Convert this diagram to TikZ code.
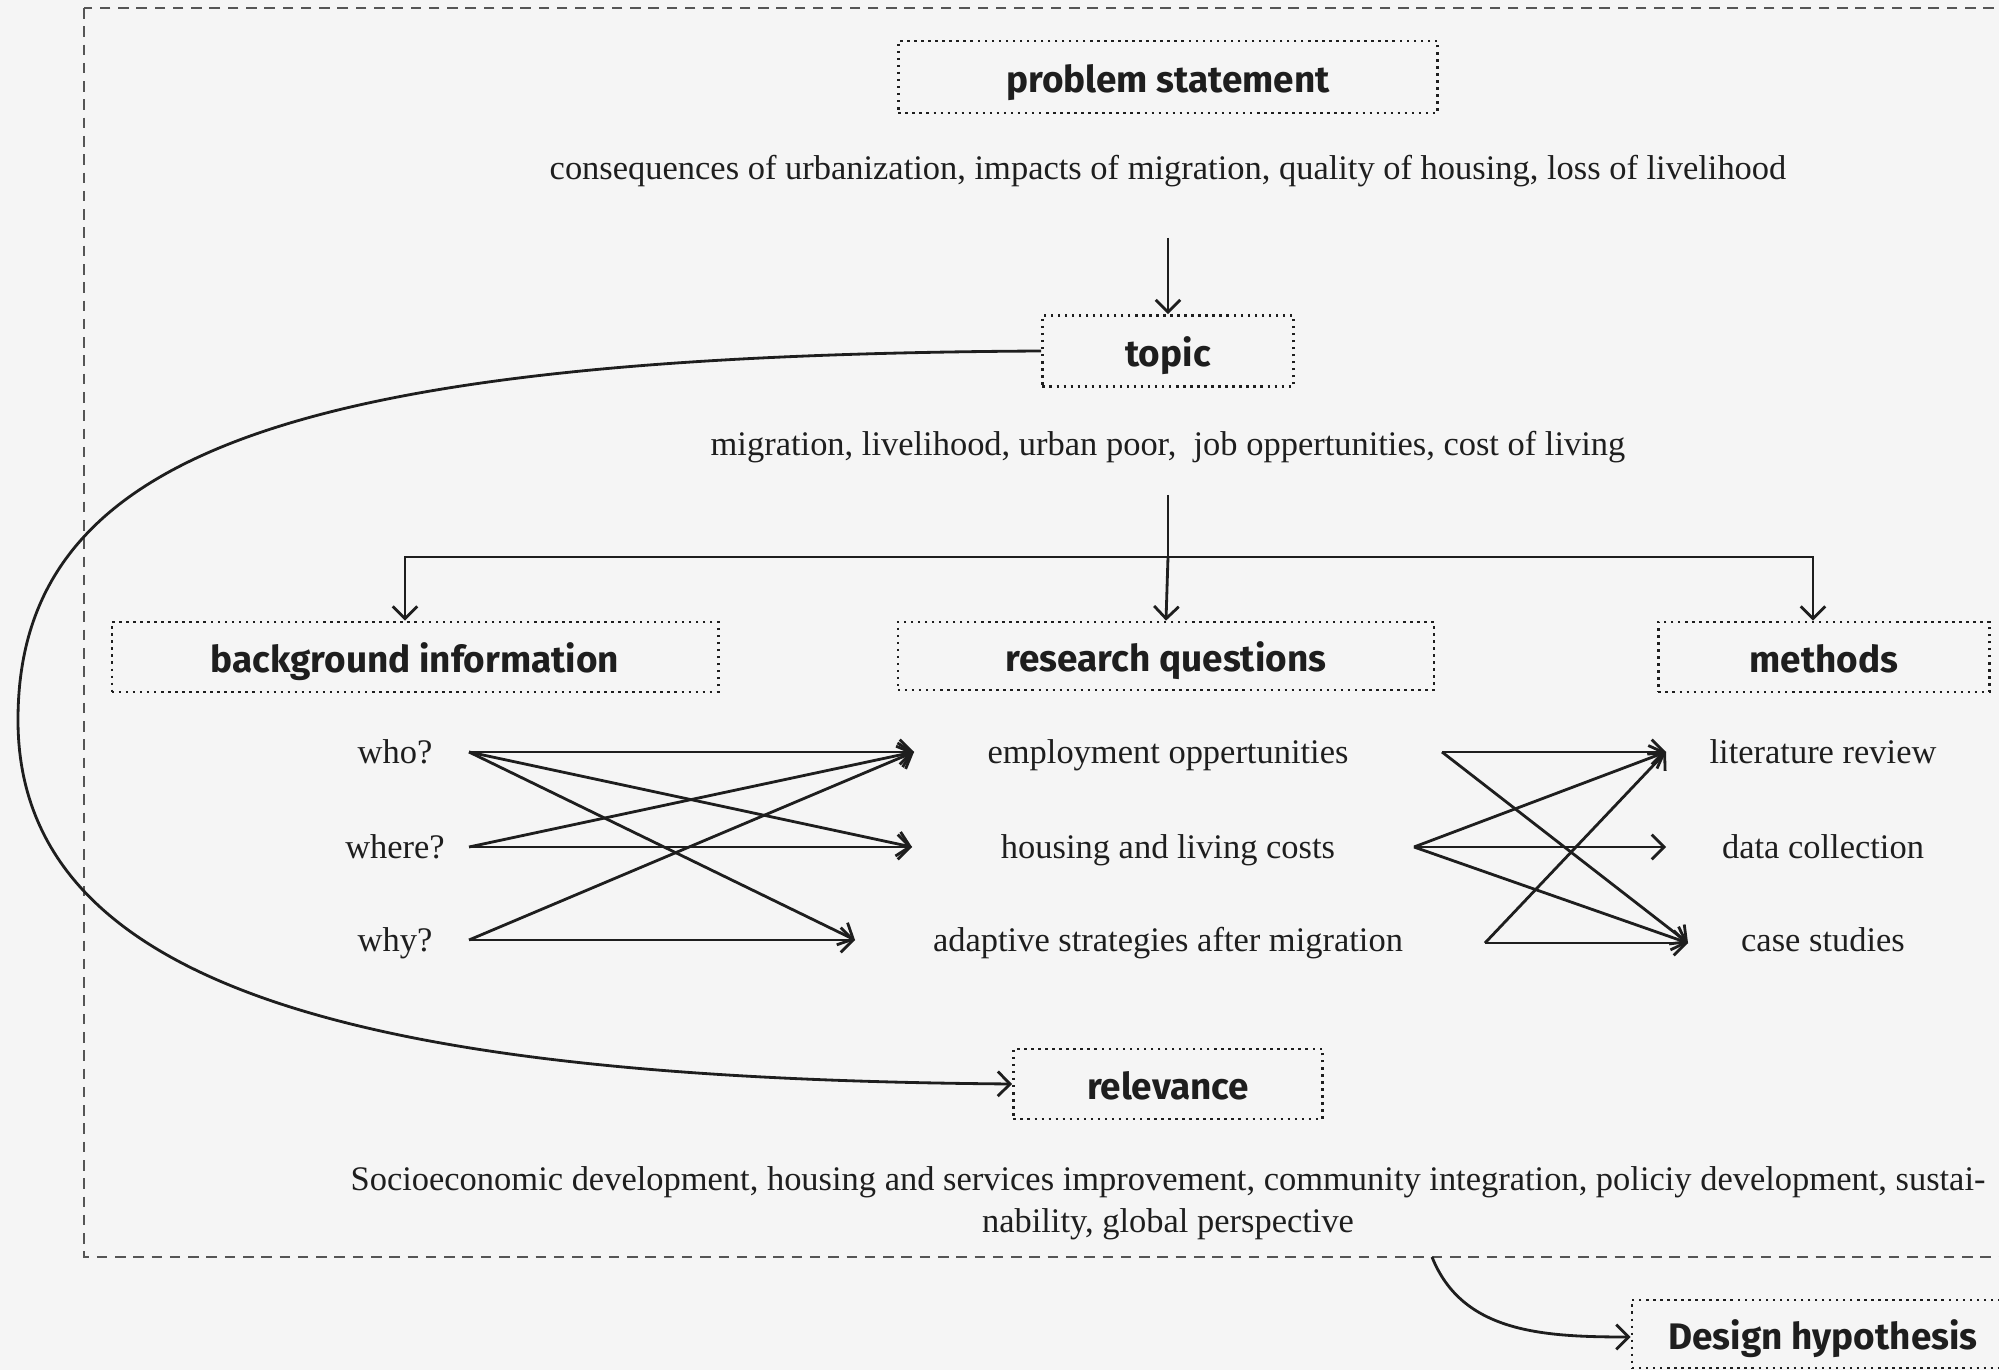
\documentclass[tikz,border=0pt]{standalone}
\usepackage{fontspec}
\setmainfont{Liberation Serif}
\newfontfamily\hdfont{Fira Sans}
\usetikzlibrary{arrows.meta}
\definecolor{bgc}{RGB}{245,245,245}
\definecolor{ink}{RGB}{30,30,30}
\definecolor{framec}{RGB}{85,85,85}
\tikzset{
  boxnode/.style={draw=ink, line width=0.75pt, dash pattern=on 0.7pt off 1.3pt, inner sep=0pt,
    text height=8.7pt, text depth=0pt,
    font=\hdfont\bfseries\fontsize{10.5}{12}\selectfont, text=ink},
  txtbase/.style={font=\fontsize{9.8}{12}\selectfont, text=ink, inner sep=0pt},
  txt/.style={txtbase, text height=6.8pt, text depth=0pt},
  conn/.style={draw=ink, line width=0.8pt},
  arr/.style={conn, -{Straight Barb[length=3.5pt,width=7pt]}},
}
\begin{document}
\begin{tikzpicture}[x=0.01cm, y=-0.01cm]
\useasboundingbox (0,0) rectangle (1999,1370);
\clip (0,0) rectangle (1999,1370);
\fill[bgc] (0,0) rectangle (1999,1370);
% outer frame
\draw[framec, line width=0.6pt, dash pattern=on 3pt off 2.2pt] (84,8) rectangle (2030,1257);

% boxes
\node[boxnode, minimum width=5.39cm, minimum height=0.72cm] (ps) at (1168,77) {problem statement};
\node[boxnode, minimum width=2.51cm, minimum height=0.71cm] (topic) at (1168,351) {topic};
\node[boxnode, minimum width=6.06cm, minimum height=0.70cm] (bg) at (415,657) {background information};
\node[boxnode, minimum width=5.36cm, minimum height=0.68cm] (rq) at (1166,656) {research questions};
\node[boxnode, minimum width=3.31cm, minimum height=0.70cm] (meth) at (1824,657) {methods};
\node[boxnode, minimum width=3.09cm, minimum height=0.70cm] (rel) at (1168,1084) {relevance};
\node[boxnode, minimum width=3.82cm, minimum height=0.68cm] (dh) at (1823,1334) {Design hypothesis};

% texts
\node[txt] (pst) at (1168,168) {consequences of urbanization, impacts of migration, quality of housing, loss of livelihood};
\node[txt] (tt) at (1168,444) {migration, livelihood, urban poor, \ job oppertunities, cost of living};
\node[txt] (who) at (395,752) {who?};
\node[txt] (where) at (395,847) {where?};
\node[txt] (why) at (395,940) {why?};
\node[txt] (emp) at (1168,752) {employment oppertunities};
\node[txt] (hous) at (1168,847) {housing and living costs};
\node[txt] (adap) at (1168,940) {adaptive strategies after migration};
\node[txt] (lit) at (1823,752) {literature review};
\node[txt] (data) at (1823,847) {data collection};
\node[txt] (case) at (1823,940) {case studies};
\node[txtbase, align=center] (relt) at (1168,1203) {Socioeconomic development, housing and services improvement, community integration, policiy development, sustai-\\nability, global perspective};

% coordinates
\coordinate (pb) at (1168,238);
\coordinate (tb) at (1168,495);
\coordinate (j) at (1168,557);
\coordinate (w1) at (469,752);
\coordinate (w2) at (469,847);
\coordinate (w3) at (469,940);
\coordinate (e1) at (914,752);
\coordinate (e2) at (912,847);
\coordinate (e3) at (855,940);
\coordinate (s1) at (1442,752);
\coordinate (s2) at (1414,847);
\coordinate (s3) at (1485,943);
\coordinate (m1) at (1666,752);
\coordinate (m2) at (1666,847);
\coordinate (m3) at (1688,943);
\coordinate (lc) at (18,720);
\coordinate (fs) at (1432,1257);

% connectors
\draw[arr] (pb) -- (topic.north);
\draw[conn] (tb) -- (j);
\draw[arr] (j) -| ([xshift=-0.1cm]bg.north);
\draw[arr] (j) -- (rq.north);
\draw[arr] (j) -| ([xshift=-0.11cm]meth.north);

\draw[arr] (w1) -- (e1);
\draw[arr] (w1) -- (e2);
\draw[arr] (w1) -- (e3);
\draw[arr] (w2) -- (e1);
\draw[arr] (w2) -- (e2);
\draw[arr] (w3) -- (e1);
\draw[arr] (w3) -- (e3);

\draw[arr] (s1) -- (m1);
\draw[arr] (s1) -- (m3);
\draw[arr] (s2) -- (m1);
\draw[arr] (s2) -- (m2);
\draw[arr] (s2) -- (m3);
\draw[arr] (s3) -- (m1);
\draw[arr] (s3) -- (m3);

\draw[arr] (topic.west) .. controls +(-743,4) and +(0,-270) .. (lc)
  .. controls +(0,280) and +(-614,-5) .. (rel.west);
\draw[arr] (fs) .. controls +(30,75) and +(-90,0) .. ([yshift=-0.03cm]dh.west);
\end{tikzpicture}
\end{document}
